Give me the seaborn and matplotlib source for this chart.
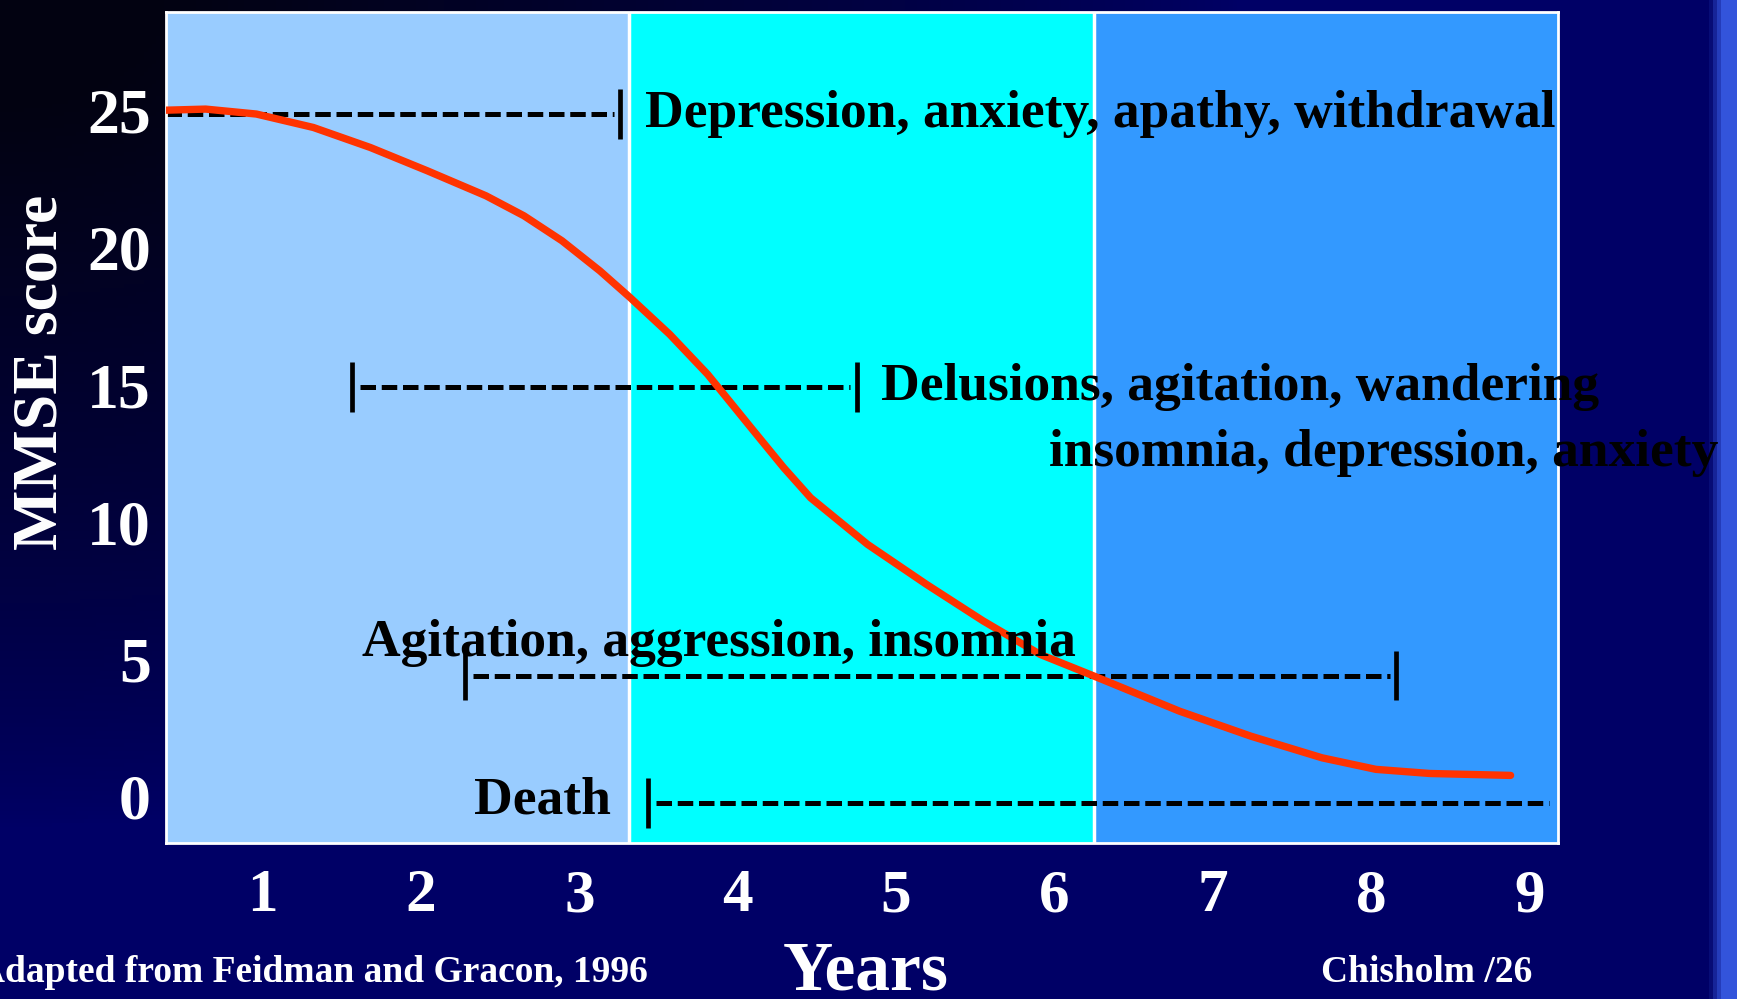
#!/usr/bin/env python3
"""
Recreate the MMSE decline / behavioural symptoms slide chart.
"""

import matplotlib.pyplot as plt
import numpy as np
import pandas as pd
import seaborn as sns

# Curve: years vs MMSE score.
years = [0.39, 0.64, 0.96, 1.32, 1.68, 2.04, 2.41, 2.65, 2.89, 3.13,
         3.32, 3.57, 3.81, 4.10, 4.29, 4.46, 4.82, 5.19, 5.55, 5.91,
         6.25, 6.79, 7.24, 7.69, 8.03, 8.37, 8.88]
mmse = [25.02, 25.06, 24.88, 24.39, 23.66, 22.81, 21.90, 21.17, 20.26, 19.16,
        18.19, 16.85, 15.39, 13.33, 11.99, 10.89, 9.19, 7.74, 6.40, 5.18,
        4.39, 3.11, 2.20, 1.41, 0.99, 0.84, 0.77]

# Stage bands (years) and their colours.
stage_edges = [0.39, 3.315, 6.247, 9.18]
stage_colors = ["#99ccff", "#00ffff", "#3399ff"]

# Symptom ranges: level, start year, end year, caps at start / end.
range_level = [24.88, 14.93, 4.41, -0.24]
range_start = [0.39, 1.566, 2.28, 3.434]
range_end = [3.259, 4.75, 8.158, 9.123]
range_cap_start = [False, True, True, True]
range_cap_end = [True, True, True, False]

# Symptom labels.
label_text = [
    "Depression, anxiety, apathy, withdrawal",
    "Delusions, agitation, wandering",
    "insomnia, depression, anxiety",
    "Agitation, aggression, insomnia",
    "Death",
]
label_x = [3.413, 4.904, 5.967, 1.629, 2.335]
label_y = [24.88, 14.93, 12.54, 5.58, -0.16]

x_ticks = [1, 2, 3, 4, 5, 6, 7, 8, 9]
y_ticks = [0, 5, 10, 15, 20, 25]


def draw_background(fig):
    # Navy slide background, darker towards the top left, light strip on the right.
    bg = fig.add_axes([0, 0, 1, 1], zorder=-5)
    h, w = 250, 434
    u = np.linspace(0, 1, w)[None, :]
    v = np.linspace(0, 1, h)[:, None]
    d = np.clip(1.15 - np.sqrt((u / 0.62) ** 2 + (v / 0.72) ** 2), 0, 1) ** 0.8
    navy = np.array([0.0, 0.0, 0.4])
    dark = np.array([0.01, 0.01, 0.07])
    img = navy * (1 - d[..., None]) + dark * d[..., None]
    strip = np.clip((u - 0.985) / 0.008, 0, 1)
    strip = np.broadcast_to(strip, (h, w))[..., None]
    img = img * (1 - strip) + np.array([0.2, 0.33, 0.86]) * strip
    bg.imshow(img, aspect="auto", extent=(0, 1, 0, 1))
    bg.axis("off")


def main():
    sns.set_theme(style="white")
    plt.rcParams["font.family"] = ["Liberation Serif", "DejaVu Serif"]
    plt.rcParams["font.weight"] = "bold"

    fig = plt.figure(figsize=(17.37, 9.99), dpi=100, facecolor="#000066")
    draw_background(fig)

    ax = fig.add_axes([0.0956, 0.156, 0.8014, 0.832])
    ax.set_xlim(stage_edges[0], stage_edges[-1])
    ax.set_ylim(-1.7, 28.6)

    # Stage bands with white separators.
    for i, color in enumerate(stage_colors):
        ax.axvspan(stage_edges[i], stage_edges[i + 1], color=color, zorder=0, lw=0)
    for edge in stage_edges[1:-1]:
        ax.axvline(edge, color="white", lw=2.5, zorder=0.5)

    # Symptom ranges: dashed spans with solid caps.
    for lvl, x0, x1, c0, c1 in zip(range_level, range_start, range_end,
                                    range_cap_start, range_cap_end):
        ax.hlines(lvl, x0 + (0.05 if c0 else 0), x1 - (0.04 if c1 else 0),
                  colors="black", lw=3.6, linestyles=(0, (3.1, 1.15)), zorder=2)
        if c0:
            ax.vlines(x0, lvl - 0.9, lvl + 0.9, colors="black", lw=3.4, zorder=2)
        if c1:
            ax.vlines(x1, lvl - 0.9, lvl + 0.9, colors="black", lw=3.4, zorder=2)

    # MMSE decline curve.
    curve = pd.DataFrame({"years": years, "mmse": mmse})
    sns.lineplot(data=curve, x="years", y="mmse", ax=ax, color="#ff3300",
                 lw=5.3, zorder=3, sort=False)
    ax.lines[-1].set_solid_capstyle("round")
    ax.lines[-1].set_solid_joinstyle("round")

    for text, x, y in zip(label_text, label_x, label_y):
        ax.text(x, y, text, fontsize=38.5, fontweight="bold", color="black",
                ha="left", va="center", clip_on=False, zorder=4)

    ax.set_xticks(x_ticks)
    ax.set_yticks(y_ticks)
    ax.tick_params(axis="x", length=0, pad=18, labelsize=44, labelcolor="white")
    ax.tick_params(axis="y", length=0, pad=11, labelsize=46, labelcolor="white")
    for lab in ax.get_xticklabels() + ax.get_yticklabels():
        lab.set_fontweight("bold")
    ax.set_xlabel("")
    ax.set_ylabel("")
    for spine in ax.spines.values():
        spine.set_color("white")
        spine.set_linewidth(2)
    ax.grid(False)

    fig.text(0.024, 1 - 372 / 999, "MMSE score", rotation=90, fontsize=46,
             fontweight="bold", color="white", ha="center", va="center")
    fig.text(866 / 1737, 1 - 973 / 999, "Years", fontsize=50, fontweight="bold",
             color="white", ha="center", va="center")
    fig.text(648 / 1737, 1 - 973 / 999, "Adapted from Feidman and Gracon, 1996",
             fontsize=27, fontweight="bold", color="white", ha="right", va="center")
    fig.text(1427 / 1737, 1 - 973 / 999, "Chisholm /26", fontsize=27,
             fontweight="bold", color="white", ha="center", va="center")

    fig.savefig("out.png", dpi=100, facecolor=fig.get_facecolor())
    plt.close(fig)


if __name__ == "__main__":
    main()
